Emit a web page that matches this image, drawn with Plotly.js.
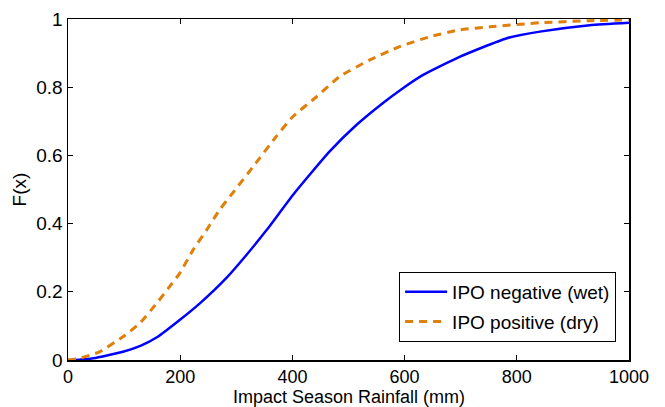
<!DOCTYPE html>
<html>
<head>
<meta charset="utf-8">
<script src="https://cdn.plot.ly/plotly-3.0.1.min.js"></script>
<style>html,body{margin:0;padding:0;background:#fff;}#chart{width:665px;height:407px;}</style>
</head>
<body>
<div id="chart"></div>
<script>
const wetX = [0, 20, 45, 98, 130, 160, 199, 235, 282, 318, 354, 401, 466, 514, 561, 597, 633, 698, 781, 841, 930, 1000];
const wetF = [0, 0.001, 0.005, 0.024, 0.042, 0.068, 0.117, 0.166, 0.240, 0.308, 0.381, 0.484, 0.611, 0.689, 0.753, 0.797, 0.836, 0.889, 0.943, 0.963, 0.982, 0.989];

const dryX = [0, 21, 56, 98, 128, 158, 181, 199, 223, 247, 270, 296, 330, 371, 401, 443, 484, 538, 591, 645, 698, 752, 841, 930, 1000];
const dryF = [0, 0.005, 0.024, 0.068, 0.108, 0.166, 0.215, 0.254, 0.323, 0.381, 0.440, 0.495, 0.567, 0.655, 0.714, 0.772, 0.831, 0.880, 0.919, 0.948, 0.968, 0.977, 0.989, 0.995, 0.997];

const seriesNames = ['IPO negative (wet)', 'IPO positive (dry)'];
const xTicks = [0, 200, 400, 600, 800, 1000];
const yTicks = [0, 0.2, 0.4, 0.6, 0.8, 1];
const yTickText = ['0', '0.2', '0.4', '0.6', '0.8', '1'];
const xTitle = 'Impact Season Rainfall (mm)';
const yTitle = 'F(x)';

const fam = 'Liberation Sans, Arial, Helvetica, sans-serif';
const font = {family: fam, size: 19, color: '#000'};
const smallFont = {family: fam, size: 18, color: '#000'};

const traces = [
  {x: wetX, y: wetF, name: seriesNames[0], mode: 'lines', legendgroup: 'a',
   line: {color: '#0000FF', width: 2.5, shape: 'spline', smoothing: 0.5}},
  {x: dryX, y: dryF, name: seriesNames[1], mode: 'lines', legendgroup: 'b',
   line: {color: '#E07F0A', width: 3, dash: '8px,6px', shape: 'spline', smoothing: 0.5}}
];

const axisCommon = {
  showgrid: false, zeroline: false, showline: true, linecolor: '#000', linewidth: 1.5,
  mirror: 'allticks', ticks: 'inside', ticklen: 5, tickcolor: '#000', tickwidth: 1,
  tickfont: font
};

const layout = {
  width: 665, height: 407,
  margin: {l: 68, r: 36, t: 19, b: 47},
  paper_bgcolor: '#fff', plot_bgcolor: '#fff',
  font: font,
  xaxis: Object.assign({}, axisCommon, {
    range: [0, 1000], tickvals: xTicks, ticktext: xTicks.map(String),
    tickfont: smallFont
  }),
  yaxis: Object.assign({}, axisCommon, {
    range: [0, 1], tickvals: yTicks, ticktext: yTickText,
    title: {text: yTitle, font: font, standoff: 4}
  }),
  annotations: [{
    text: xTitle, xref: 'paper', yref: 'paper', x: 0.5, y: 0,
    xanchor: 'center', yanchor: 'top', yshift: -26, borderpad: 0,
    showarrow: false, font: smallFont
  }],
  showlegend: true,
  legend: {
    x: 0.977, y: 0.053, xanchor: 'right', yanchor: 'bottom',
    bgcolor: '#fff', bordercolor: '#000', borderwidth: 1,
    font: font, tracegroupgap: 2, itemwidth: 42
  }
};

Plotly.newPlot('chart', traces, layout, {displayModeBar: false, staticPlot: true});
</script>
</body>
</html>
